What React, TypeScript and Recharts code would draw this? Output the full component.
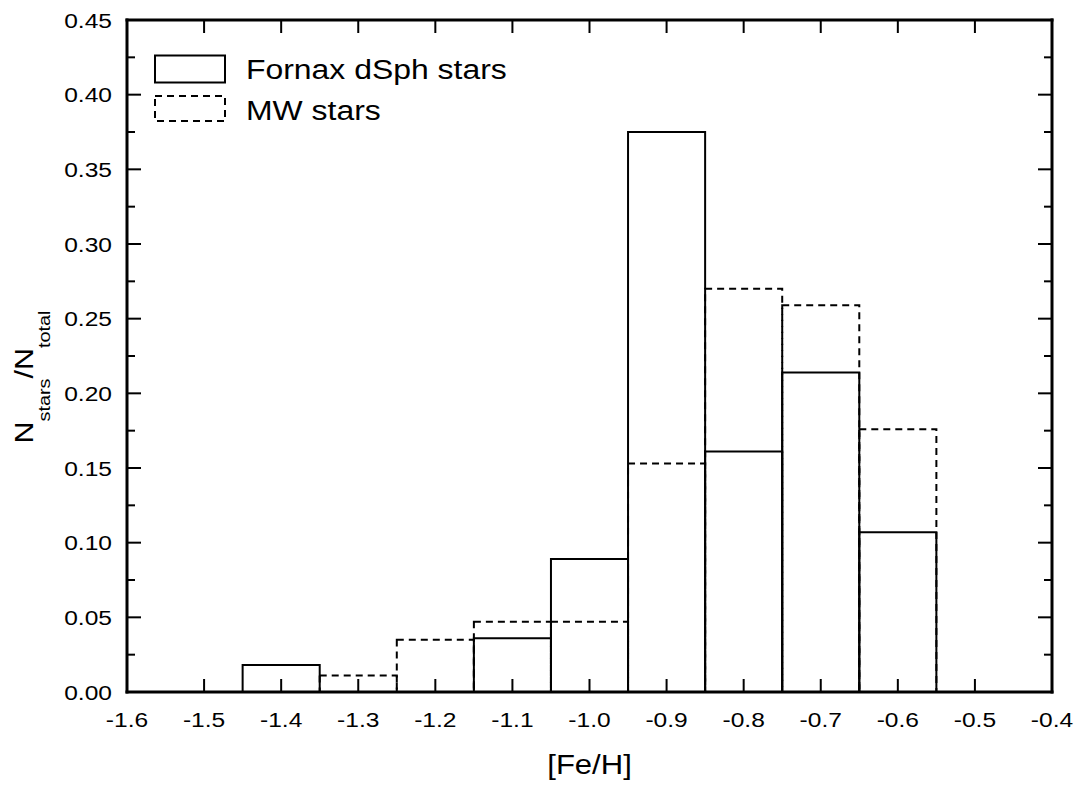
import React from 'react';
import { ComposedChart, XAxis, YAxis, ReferenceArea, Legend, Label } from 'recharts';

// ---- data ----
const binCenters = [-1.4, -1.3, -1.2, -1.1, -1.0, -0.9, -0.8, -0.7, -0.6];
const binWidth = 0.1;
const fornaxFraction = [0.018, 0, 0, 0.036, 0.089, 0.375, 0.161, 0.214, 0.107];
const mwFraction = [0, 0.011, 0.035, 0.047, 0.047, 0.153, 0.27, 0.259, 0.176];
const xTicks = [-1.6, -1.5, -1.4, -1.3, -1.2, -1.1, -1.0, -0.9, -0.8, -0.7, -0.6, -0.5, -0.4];
const yTicks = [0, 0.025, 0.05, 0.075, 0.1, 0.125, 0.15, 0.175, 0.2, 0.225, 0.25, 0.275, 0.3, 0.325, 0.35, 0.375, 0.4, 0.425, 0.45];
const yMajorTicks = [0, 0.05, 0.1, 0.15, 0.2, 0.25, 0.3, 0.35, 0.4, 0.45];
const seriesNames = ['Fornax dSph stars', 'MW stars'];
const xTitle = '[Fe/H]';

const data = binCenters.map((c, i) => ({ x: c, fornax: fornaxFraction[i], mw: mwFraction[i] }));

// ---- style ----
const FONT = '"Liberation Sans", Arial, Helvetica, sans-serif';
const SX = 1.17;
const TICK_FONT = 21;
const TS = 0.001; // tiny tick size / margin so custom ticks get the axis-line coordinate
const isMajor = (v: number) => yMajorTicks.some((m) => Math.abs(m - v) < 1e-9);

const LeftTick = (props: any) => {
  const { x, y, payload } = props;
  const major = isMajor(payload.value);
  return (
    <g>
      <line x1={x} x2={x + (major ? 14 : 8)} y1={y} y2={y} stroke="#000" strokeWidth={2} />
      {major && (
        <text
          transform={`translate(${x - 15},${y}) scale(${SX},1)`}
          textAnchor="end"
          dy="0.36em"
          fontSize={TICK_FONT}
          fontFamily={FONT}
          fill="#000"
        >
          {payload.value.toFixed(2)}
        </text>
      )}
    </g>
  );
};

const RightTick = (props: any) => {
  const { x, y, payload } = props;
  const major = isMajor(payload.value);
  return <line x1={x} x2={x - (major ? 14 : 8)} y1={y} y2={y} stroke="#000" strokeWidth={2} />;
};

const BottomTick = (props: any) => {
  const { x, y, payload } = props;
  return (
    <g>
      <line x1={x} x2={x} y1={y} y2={y - 13} stroke="#000" strokeWidth={2} />
      <text
        transform={`translate(${x},${y + 35}) scale(${SX},1)`}
        textAnchor="middle"
        fontSize={TICK_FONT}
        fontFamily={FONT}
        fill="#000"
      >
        {payload.value.toFixed(1)}
      </text>
    </g>
  );
};

const TopTick = (props: any) => {
  const { x, y } = props;
  return <line x1={x} x2={x} y1={y} y2={y + 13} stroke="#000" strokeWidth={2} />;
};

const XTitle = (props: any) => {
  const vb = props.viewBox;
  return (
    <text
      transform={`translate(${vb.x + vb.width / 2},${vb.y + 82}) scale(1.15,1)`}
      textAnchor="middle"
      fontSize={27}
      fontFamily={FONT}
      fill="#000"
    >
      {xTitle}
    </text>
  );
};

const YTitle = (props: any) => {
  const vb = props.viewBox;
  const cy = vb.y + vb.height / 2 + 21;
  return (
    <text
      transform={`translate(25,${cy}) rotate(-90) scale(${SX},1)`}
      textAnchor="middle"
      fontSize={26}
      fontFamily={FONT}
      fill="#000"
    >
      N
      <tspan fontSize={17} dy={17}>stars</tspan>
      <tspan fontSize={26} dy={-17}>/N</tspan>
      <tspan fontSize={17} dy={17}>total</tspan>
    </text>
  );
};

const LegendContent = () => (
  <svg width={420} height={90} style={{ display: 'block' }}>
    <rect x={7} y={7.5} width={70} height={27} fill="none" stroke="#000" strokeWidth={2} />
    <rect x={7} y={48} width={70} height={25} fill="none" stroke="#000" strokeWidth={2} strokeDasharray="7 5" />
    <text transform={`translate(98,31.3) scale(1.14,1)`} fontSize={28} fontFamily={FONT} fill="#000">
      {seriesNames[0]}
    </text>
    <text transform={`translate(98,72) scale(1.14,1)`} fontSize={28} fontFamily={FONT} fill="#000">
      {seriesNames[1]}
    </text>
  </svg>
);

const axisLineStyle = { stroke: '#000', strokeWidth: 3, strokeLinecap: 'square' as const };

export default function App() {
  return (
    <ComposedChart
      width={1075}
      height={781}
      data={data}
      margin={{ top: 11, right: 30, bottom: 0, left: 0 }}
    >
      <XAxis
        xAxisId="bottom"
        dataKey="x"
        type="number"
        domain={[-1.6, -0.4]}
        ticks={xTicks}
        interval={0}
        allowDataOverflow
        height={97}
        tickSize={TS}
        tickMargin={TS}
        tickLine={false}
        tick={<BottomTick />}
        axisLine={axisLineStyle}
      >
        <Label content={<XTitle />} />
      </XAxis>
      <XAxis
        xAxisId="top"
        orientation="top"
        dataKey="x"
        type="number"
        domain={[-1.6, -0.4]}
        ticks={xTicks}
        interval={0}
        allowDataOverflow
        height={1}
        tickSize={TS}
        tickMargin={TS}
        tickLine={false}
        tick={<TopTick />}
        axisLine={axisLineStyle}
      />
      <YAxis
        yAxisId="left"
        orientation="left"
        type="number"
        domain={[0, 0.45]}
        ticks={yTicks}
        interval={0}
        allowDataOverflow
        width={119}
        tickSize={TS}
        tickMargin={TS}
        tickLine={false}
        tick={<LeftTick />}
        axisLine={axisLineStyle}
      >
        <Label content={<YTitle />} />
      </YAxis>
      <YAxis
        yAxisId="right"
        orientation="right"
        type="number"
        domain={[0, 0.45]}
        ticks={yTicks}
        interval={0}
        allowDataOverflow
        width={1}
        tickSize={TS}
        tickMargin={TS}
        tickLine={false}
        tick={<RightTick />}
        axisLine={axisLineStyle}
      />
      {data
        .filter((d) => d.mw > 0)
        .map((d) => (
          <ReferenceArea
            key={`mw${d.x}`}
            xAxisId="bottom"
            yAxisId="left"
            x1={d.x - binWidth / 2}
            x2={d.x + binWidth / 2}
            y1={0}
            y2={d.mw}
            fill="none"
            fillOpacity={0}
            stroke="#000"
            strokeWidth={2}
            strokeDasharray="7 5"
            ifOverflow="visible"
          />
        ))}
      {data
        .filter((d) => d.fornax > 0)
        .map((d) => (
          <ReferenceArea
            key={`fx${d.x}`}
            xAxisId="bottom"
            yAxisId="left"
            x1={d.x - binWidth / 2}
            x2={d.x + binWidth / 2}
            y1={0}
            y2={d.fornax}
            fill="none"
            fillOpacity={0}
            stroke="#000"
            strokeWidth={2}
            ifOverflow="visible"
          />
        ))}
      <Legend
        layout="vertical"
        align="center"
        verticalAlign="middle"
        content={<LegendContent />}
        wrapperStyle={{ left: 140, top: 40, width: 420, height: 90 }}
      />
    </ComposedChart>
  );
}
